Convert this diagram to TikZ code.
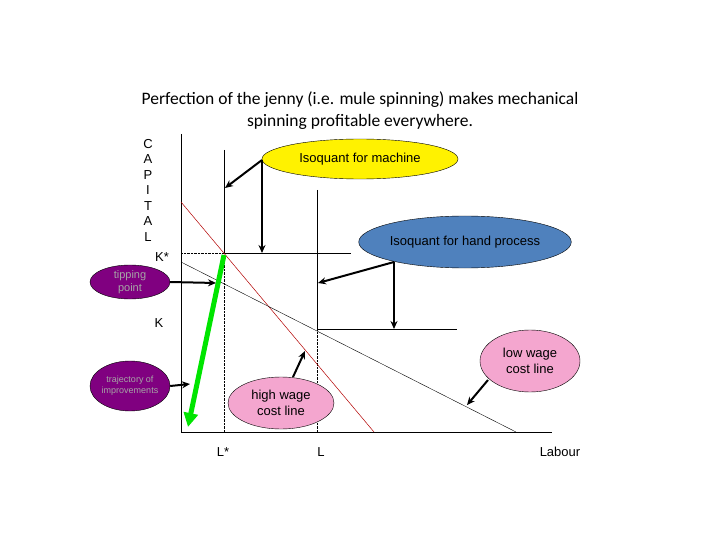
\documentclass[tikz,border=0pt]{standalone}
\usepackage{fontspec}
\setmainfont{Liberation Sans}
\newfontfamily\titlefont{Carlito}
\usetikzlibrary{shapes.geometric,arrows.meta}
\definecolor{purp}{HTML}{800080}
\definecolor{pinkf}{HTML}{F4A6CF}
\definecolor{bluef}{HTML}{4F81BD}
\tikzset{
  bubble/.style={ellipse,draw=black,inner sep=0pt,align=center,font=\fontsize{13}{16}\selectfont},
  pbubble/.style={ellipse,draw=black,fill=purp,inner sep=0pt,align=center,text=black!35,font=\fontsize{11}{13}\selectfont},
  arr/.style={-{Stealth[length=8pt,width=7pt]},line width=2pt},
  lbl/.style={font=\fontsize{13}{15}\selectfont,inner sep=0pt}
}
\begin{document}
\begin{tikzpicture}[x=1pt,y=-1pt]
\useasboundingbox (0,0) rectangle (720,540);
\node[font=\titlefont\fontsize{17.5}{22}\selectfont,align=center] (title) at (360,111) {Perfection of the jenny (i.e. mule spinning) makes mechanical\\spinning profitable everywhere.};
% axes
\coordinate (o) at (181,432);
\coordinate (ytop) at (181,134);
\coordinate (xend) at (552,432);
\draw[line width=0.8pt] (ytop) -- (o) -- (xend);
% isoquants
\coordinate (m1) at (224,150); \coordinate (mc) at (224,253); \coordinate (m2) at (351,253);
\coordinate (h1) at (317,190); \coordinate (hc) at (317,329); \coordinate (h2) at (457,329);
\draw (m1) -- (mc) -- (m2);
\draw (h1) -- (hc) -- (h2);
\draw[densely dotted] (181,253) -- (mc) -- (224,432);
\draw[densely dotted] (hc) -- (317,432);
% cost lines
\draw[red!70!black,line width=0.5pt] (181,202) -- (374,432);
\draw (181,262) -- (516,432);
% green
\draw[green!90!black,line width=5pt,-{Triangle[length=14pt,width=14pt]}] (224,255) -- (188,427);
% bubbles
\node[bubble,fill=yellow,minimum width=196pt,minimum height=40pt] (mach) at (360,159) {Isoquant for machine};
\node[bubble,fill=bluef,minimum width=190pt,minimum height=52pt] (hand) at (465,242) {Isoquant for hand process};
\node[pbubble,minimum width=80pt,minimum height=34pt] (tip) at (130,282) {tipping\\point};
\node[pbubble,minimum width=80pt,minimum height=50pt,font=\fontsize{9}{11}\selectfont] (traj) at (130,386) {trajectory of\\improvements};
\node[bubble,fill=pinkf,minimum width=106pt,minimum height=52pt] (high) at (281,403) {high wage\\cost line};
\node[bubble,fill=pinkf,minimum width=100pt,minimum height=62pt] (low) at (530,361) {low wage\\cost line};
% arrows
\coordinate (ma) at (262,160);
\coordinate (ha) at (394,262);
\draw[arr] (ma) -- (225,188);
\draw[arr] (ma) -- (262,253);
\draw[arr] (ha) -- (318,283);
\draw[arr] (ha) -- (394,329);
\draw[arr] (tip.east) -- (216,283);
\draw[arr] (traj.east) -- (190,384);
\draw[arr] (293,377) -- (305,351);
\draw[arr] (488,380) -- (467,405);
% labels
\node[lbl,align=center,font=\fontsize{13}{15.5}\selectfont] (cap) at (148,190) {C\\A\\P\\I\\T\\A\\L};
\node[lbl] (ks) at (162,257) {K*};
\node[lbl] (k) at (159,323) {K};
\node[lbl] (ls) at (223,452) {L*};
\node[lbl] (l) at (321,452) {L};
\node[lbl] (lab) at (560,452) {Labour};
\end{tikzpicture}
\end{document}
